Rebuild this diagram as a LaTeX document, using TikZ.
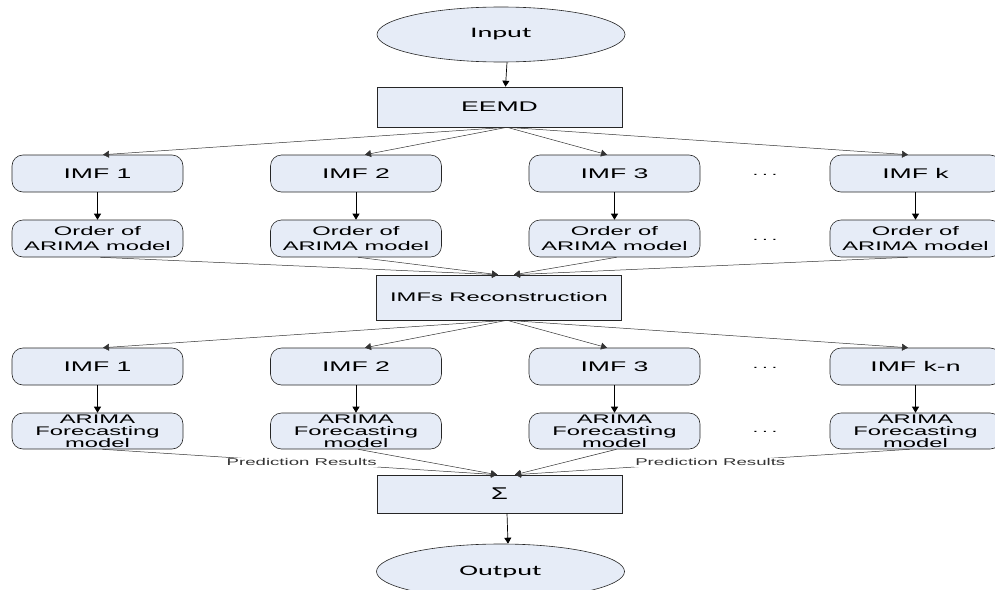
\documentclass[tikz,border=0pt]{standalone}
\usepackage{fontspec}
\setmainfont{Liberation Sans}
\newfontfamily\wf[FakeStretch=1.9]{Liberation Sans}
\newfontfamily\wsig[FakeStretch=1.6]{Liberation Sans}
\newfontfamily\wcal[FakeStretch=1.95]{Carlito}
\usetikzlibrary{shapes.geometric,arrows.meta}
\definecolor{boxfill}{RGB}{230,236,247}
\tikzset{
  every node/.style={inner sep=0pt},
  rbox/.style={draw=black!85, fill=boxfill, rounded corners=11pt, minimum width=171pt, minimum height=37pt, align=center, line width=0.6pt},
  imftxt/.style={font=\wf\fontsize{14}{16}\selectfont},
  ordtxt/.style={font=\wf\fontsize{12.5}{15}\selectfont},
  fortxt/.style={font=\wf\fontsize{12.5}{11.8}\selectfont},
  sbox/.style={draw=black!85, fill=boxfill, minimum width=245pt, align=center, line width=0.6pt},
  oval/.style={draw=black!85, fill=boxfill, ellipse, minimum width=248pt, minimum height=55pt, font=\wcal\fontsize{14.5}{16}\selectfont, line width=0.6pt},
  arr/.style={-{Triangle[length=6pt,width=7pt]}, line width=0.7pt, black},
  darr/.style={-{Triangle[length=6pt,width=7pt]}, line width=0.5pt, black!80},
  dots/.style={font=\wf\fontsize{11}{12}\selectfont},
  predlbl/.style={fill=white, inner sep=1pt, font=\wf\fontsize{9.8}{11}\selectfont}
}
\begin{document}
\begin{tikzpicture}[x=1pt,y=-1pt]
\useasboundingbox (0,0) rectangle (995,589);
\clip (0,0) rectangle (995,589);
% top
\node[oval] (in) at (501,34.5) {Input};
\node[sbox, minimum height=40pt, imftxt] (eemd) at (499.5,107) {EEMD};
% row 1
\node[rbox, imftxt] (a1) at (97.5,173.5) {IMF 1};
\node[rbox, imftxt] (a2) at (356,173.5) {IMF 2};
\node[rbox, imftxt] (a3) at (614.5,173.5) {IMF 3};
\node[rbox, imftxt] (a4) at (915.5,173.5) {IMF k};
\node[rbox, ordtxt] (o1) at (97.5,238.5) {Order of\\ARIMA model};
\node[rbox, ordtxt] (o2) at (356,238.5) {Order of\\ARIMA model};
\node[rbox, ordtxt] (o3) at (614.5,238.5) {Order of\\ARIMA model};
\node[rbox, ordtxt] (o4) at (915.5,238.5) {Order of\\ARIMA model};
\node[dots] (d1) at (765,175) {.\,\,.\,\,.};
\node[dots] (d2) at (765,240) {.\,\,.\,\,.};
% reconstruction
\node[sbox, minimum height=45pt, font=\wf\fontsize{12.5}{15}\selectfont] (rec) at (499,297.5) {IMFs Reconstruction};
% row 2
\node[rbox, imftxt] (b1) at (97.5,366.5) {IMF 1};
\node[rbox, imftxt] (b2) at (356,366.5) {IMF 2};
\node[rbox, imftxt] (b3) at (614.5,366.5) {IMF 3};
\node[rbox, imftxt] (b4) at (915.5,366.5) {IMF k-n};
\node[rbox, fortxt, minimum height=36pt] (f1) at (97.5,431) {ARIMA\\Forecasting\\model};
\node[rbox, fortxt, minimum height=36pt] (f2) at (356,431) {ARIMA\\Forecasting\\model};
\node[rbox, fortxt, minimum height=36pt] (f3) at (614.5,431) {ARIMA\\Forecasting\\model};
\node[rbox, fortxt, minimum height=36pt] (f4) at (915.5,431) {ARIMA\\Forecasting\\model};
\node[dots] (d3) at (765,368) {.\,\,.\,\,.};
\node[dots] (d4) at (765,432) {.\,\,.\,\,.};
% sum and output
\node[sbox, minimum height=38pt, font=\wsig\fontsize{17}{19}\selectfont] (sum) at (499.5,494) {Σ};
\node[oval] (out) at (500.5,571.5) {Output};
% connectors
\draw[arr] ([xshift=6]in.south) -- ([xshift=6]eemd.north);
\draw[darr] ([xshift=7.5]eemd.south) -- ([xshift=5.5]a1.north);
\draw[darr] ([xshift=7.5]eemd.south) -- ([xshift=9]a2.north);
\draw[darr] ([xshift=7.5]eemd.south) -- ([xshift=-7.5]a3.north);
\draw[darr] ([xshift=7.5]eemd.south) -- ([xshift=-7.5]a4.north);
\draw[arr] (a1) -- (o1);
\draw[arr] (a2) -- (o2);
\draw[arr] (a3) -- (o3);
\draw[arr] (a4) -- (o4);
\draw[darr] ([xshift=3]o1.south) -- ([xshift=-1]rec.north);
\draw[darr] ([xshift=2]o2.south) -- ([xshift=-1]rec.north);
\draw[darr] ([xshift=2]o3.south) -- ([xshift=15]rec.north);
\draw[darr] ([xshift=-8]o4.south) -- ([xshift=15]rec.north);
\draw[darr] ([xshift=8]rec.south) -- ([xshift=5.5]b1.north);
\draw[darr] ([xshift=8]rec.south) -- ([xshift=9]b2.north);
\draw[darr] ([xshift=8]rec.south) -- ([xshift=-7.5]b3.north);
\draw[darr] ([xshift=8]rec.south) -- ([xshift=-7.5]b4.north);
\draw[arr] (b1) -- (f1);
\draw[arr] (b2) -- (f2);
\draw[arr] (b3) -- (f3);
\draw[arr] (b4) -- (f4);
\draw[darr] ([xshift=5]f1.south) -- node[predlbl, pos=0.505] (p1) {Prediction Results} ([xshift=-2.5]sum.north);
\draw[darr] ([xshift=2]f2.south) -- ([xshift=-2.5]sum.north);
\draw[darr] ([xshift=2]f3.south) -- ([xshift=15.5]sum.north);
\draw[darr] ([xshift=-6]f4.south) -- node[predlbl, pos=0.505] (p2) {Prediction Results} ([xshift=15.5]sum.north);
\draw[arr] ([xshift=7.5]sum.south) -- ([xshift=7.5]out.north);
\end{tikzpicture}
\end{document}
